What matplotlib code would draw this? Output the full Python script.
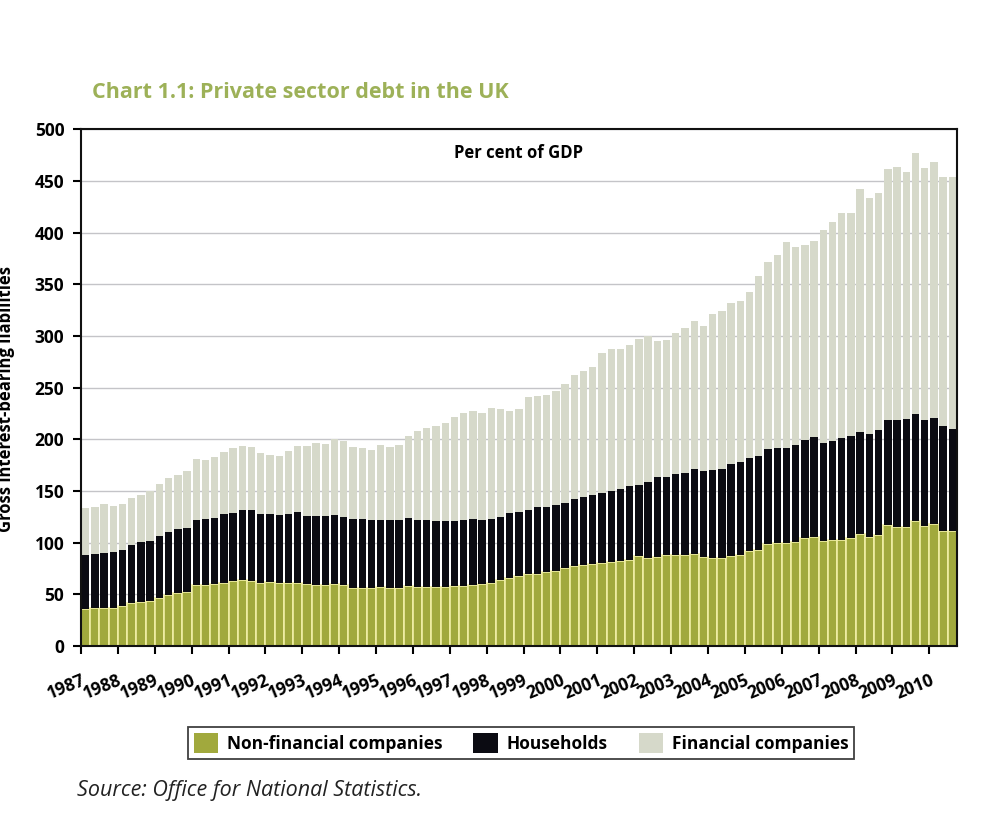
import numpy as np
import matplotlib
matplotlib.use("Agg")
import matplotlib.pyplot as plt
from matplotlib.patches import Patch

plt.rcParams['font.family'] = ['Open Sans', 'DejaVu Sans']

years = [str(y) for y in range(1987, 2011)]

non_financial = [
    36.0, 36.7, 37.0, 37.0,
    38.7, 41.7, 43.0, 43.7,
    46.3, 49.7, 51.3, 52.7,
    59.0, 59.3, 59.7, 61.3,
    63.0, 64.0, 63.3, 61.0,
    61.7, 60.7, 61.3, 61.3,
    59.7, 59.0, 59.0, 59.7,
    58.7, 56.0, 56.0, 56.0,
    56.7, 56.0, 56.0, 57.7,
    57.3, 57.0, 57.0, 57.0,
    57.7, 58.0, 58.7, 59.7,
    61.0, 64.3, 65.7, 67.3,
    69.3, 70.0, 71.7, 73.0,
    75.3, 77.0, 78.3, 79.3,
    80.0, 81.3, 82.0, 83.3,
    86.7, 85.0, 86.0, 88.0,
    88.0, 87.7, 89.0, 86.0,
    85.3, 85.0, 87.3, 88.0,
    92.0, 93.3, 98.7, 99.7,
    99.7, 101.0, 104.3, 105.7,
    101.3, 102.3, 103.0, 104.0,
    108.0, 105.7, 107.7, 117.3,
    115.0, 114.7, 120.7, 116.0,
    118.3, 111.7, 111.0,
]

households = [
    51.7, 52.0, 53.0, 54.0,
    54.3, 56.3, 58.0, 58.3,
    59.7, 61.0, 61.7, 61.6,
    62.7, 63.4, 64.3, 66.0,
    65.3, 67.3, 68.0, 66.7,
    66.3, 66.0, 66.7, 68.4,
    66.3, 67.0, 66.3, 66.6,
    66.3, 66.7, 66.7, 66.0,
    65.6, 65.7, 65.7, 66.0,
    65.0, 65.3, 64.0, 64.0,
    63.3, 64.3, 64.0, 62.6,
    62.3, 60.7, 62.6, 62.0,
    62.7, 64.3, 62.6, 63.7,
    63.0, 65.0, 66.0, 66.7,
    68.0, 69.0, 70.3, 71.4,
    69.3, 73.3, 77.3, 75.3,
    78.0, 80.0, 82.7, 83.3,
    85.0, 86.3, 89.0, 89.7,
    90.3, 91.0, 91.6, 92.0,
    92.3, 93.3, 94.7, 96.3,
    95.4, 96.4, 98.0, 99.0,
    98.7, 99.3, 101.0, 101.7,
    103.3, 105.3, 104.0, 103.0,
    102.0, 101.0, 99.3,
]

financial = [
    46.0, 46.0, 47.3, 44.3,
    44.3, 45.3, 45.0, 48.0,
    51.0, 52.0, 52.7, 55.4,
    59.6, 57.6, 58.7, 60.0,
    63.4, 62.4, 61.4, 59.0,
    56.7, 57.0, 61.0, 64.0,
    67.7, 70.3, 70.4, 74.0,
    73.0, 70.0, 69.0, 67.7,
    71.7, 71.0, 72.6, 79.6,
    85.4, 88.7, 91.7, 95.0,
    101.0, 103.0, 105.0, 103.0,
    107.0, 104.3, 99.4, 99.7,
    108.7, 108.0, 108.4, 110.3,
    115.0, 120.7, 121.7, 124.0,
    135.7, 137.0, 135.0, 136.3,
    140.7, 141.4, 132.0, 132.7,
    137.3, 140.0, 142.6, 140.7,
    150.7, 152.4, 155.7, 156.0,
    160.4, 174.0, 181.4, 187.0,
    199.0, 191.7, 188.7, 190.0,
    205.6, 211.6, 218.3, 216.3,
    236.0, 228.3, 230.0, 243.0,
    245.4, 239.0, 252.3, 243.7,
    248.0, 241.0, 243.4,
]

series_names = ['Non-financial companies', 'Households', 'Financial companies']

GREEN = '#a1a93d'
BLACK = '#0b0b12'
GREY = '#d6d9ca'
STRIPE = '#f1efa6'
TITLE = '#9db158'

nf = np.array(non_financial)
hh = np.array(households)
fc = np.array(financial)
x = np.arange(len(nf))

fig = plt.figure(figsize=(10, 8.32), dpi=100)
ax = fig.add_axes([0.081, 0.2236, 0.876, 0.621])

ax.bar(x, nf, width=1.0, color=GREEN, edgecolor=STRIPE, linewidth=1.2, zorder=2)
ax.bar(x, hh, width=0.8, bottom=nf, color=BLACK, linewidth=0, zorder=2)
ax.bar(x, fc, width=0.8, bottom=nf + hh, color=GREY, linewidth=0, zorder=2)

ax.set_xlim(-0.5, len(nf) - 0.5)
ax.set_ylim(0, 500)
ax.set_yticks(np.arange(0, 501, 50))
ax.yaxis.grid(True, color='#c4c4c8', linewidth=1.0, zorder=0)
ax.set_axisbelow(True)

tick_pos = np.arange(len(years)) * 4 - 0.5
ax.set_xticks(tick_pos)
ax.set_xticklabels(years, rotation=22, ha='right', va='top', rotation_mode='anchor',
                   fontsize=12.5, fontweight='bold')
ax.tick_params(axis='x', direction='out', length=6, width=1.5, pad=12)
ax.tick_params(axis='y', direction='out', length=6, width=1.5, pad=6, labelsize=12.5)
for lab in ax.get_yticklabels():
    lab.set_fontweight('bold')
for s in ax.spines.values():
    s.set_linewidth(1.5)
    s.set_color('#111111')

ax.text(0.5, 0.955, 'Per cent of GDP', transform=ax.transAxes, ha='center', va='center',
        fontsize=12, fontweight='bold')

fig.text(0.092, 0.889, 'Chart 1.1: Private sector debt in the UK', color=TITLE,
         fontsize=15.5, fontweight='bold', ha='left', va='center')

fig.text(0.006, 0.52, 'Gross interest-bearing liabilities', rotation=90, ha='center',
         va='center', fontsize=12, fontweight='bold')

handles = [Patch(facecolor=GREEN), Patch(facecolor=BLACK), Patch(facecolor=GREY)]
leg = fig.legend(handles, series_names, loc='center', bbox_to_anchor=(0.521, 0.1065),
                 ncol=3, frameon=True, fancybox=False, edgecolor='#111111',
                 prop={'weight': 'bold', 'size': 12.5}, handlelength=1.4, handleheight=1.4,
                 columnspacing=1.8, handletextpad=0.5, borderpad=0.35)
leg.get_frame().set_linewidth(1.3)

fig.text(0.077, 0.05, 'Source: Office for National Statistics.', fontsize=15.5,
         style='italic', ha='left', va='center', color='#222222')

fig.savefig('out.png', dpi=100)
